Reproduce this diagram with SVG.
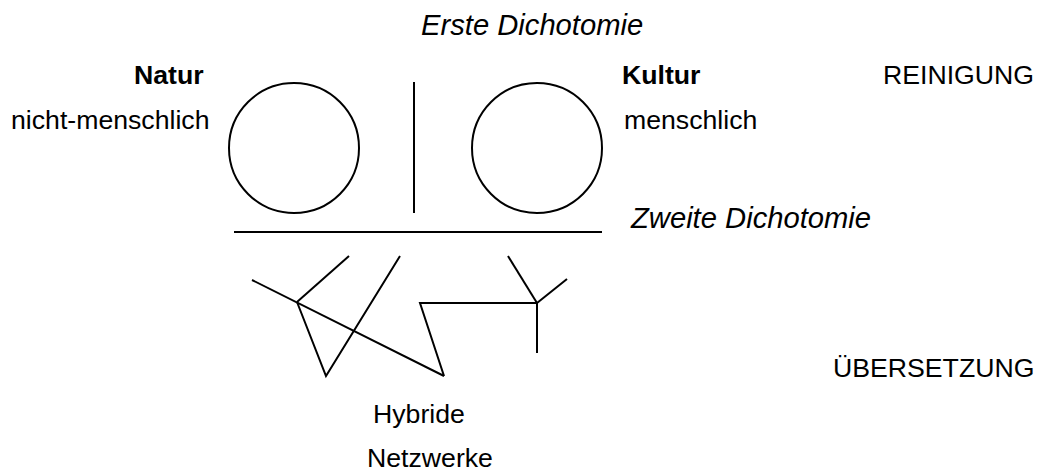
<svg xmlns="http://www.w3.org/2000/svg" width="1040" height="473" viewBox="0 0 1040 473">
<style>
  text { font-family: "Liberation Sans", Arial, sans-serif; font-size: 26.67px; fill: #000; }
  .b { font-weight: bold; }
  .i { font-style: italic; font-size: 29.2px; }
  .ln { stroke: #000; stroke-width: 2; fill: none; stroke-linecap: butt; stroke-linejoin: miter; }
</style>
<rect width="1040" height="473" fill="#fff"/>
<g id="titles">
  <text class="i" x="421" y="35">Erste Dichotomie</text>
  <text class="i" x="631" y="228">Zweite Dichotomie</text>
</g>
<g id="natur">
  <text class="b" x="134" y="84">Natur</text>
  <text x="11" y="129">nicht-menschlich</text>
  <circle class="ln" cx="294" cy="148" r="65"/>
</g>
<g id="kultur">
  <text class="b" x="622" y="84">Kultur</text>
  <text x="624" y="129">menschlich</text>
  <circle class="ln" cx="537" cy="148" r="65"/>
</g>
<g id="reinigung">
  <text x="883" y="84">REINIGUNG</text>
</g>
<g id="uebersetzung">
  <text x="833" y="377">ÜBERSETZUNG</text>
</g>
<g id="hybride">
  <text x="373" y="423">Hybride</text>
  <text x="367" y="467">Netzwerke</text>
</g>
<g id="connectors">
  <line class="ln" x1="414" y1="82" x2="414" y2="213"/>
  <line class="ln" x1="234" y1="232" x2="602" y2="232"/>
  <line class="ln" x1="252" y1="280" x2="444" y2="376"/>
  <line class="ln" x1="297" y1="302" x2="349" y2="256"/>
  <polyline class="ln" points="297,302 326,376 400,256"/>
  <polyline class="ln" points="444,376 420,303 537,303"/>
  <line class="ln" x1="508" y1="256" x2="537" y2="303"/>
  <line class="ln" x1="537" y1="303" x2="567" y2="279"/>
  <line class="ln" x1="537" y1="303" x2="537" y2="353"/>
</g>
</svg>
